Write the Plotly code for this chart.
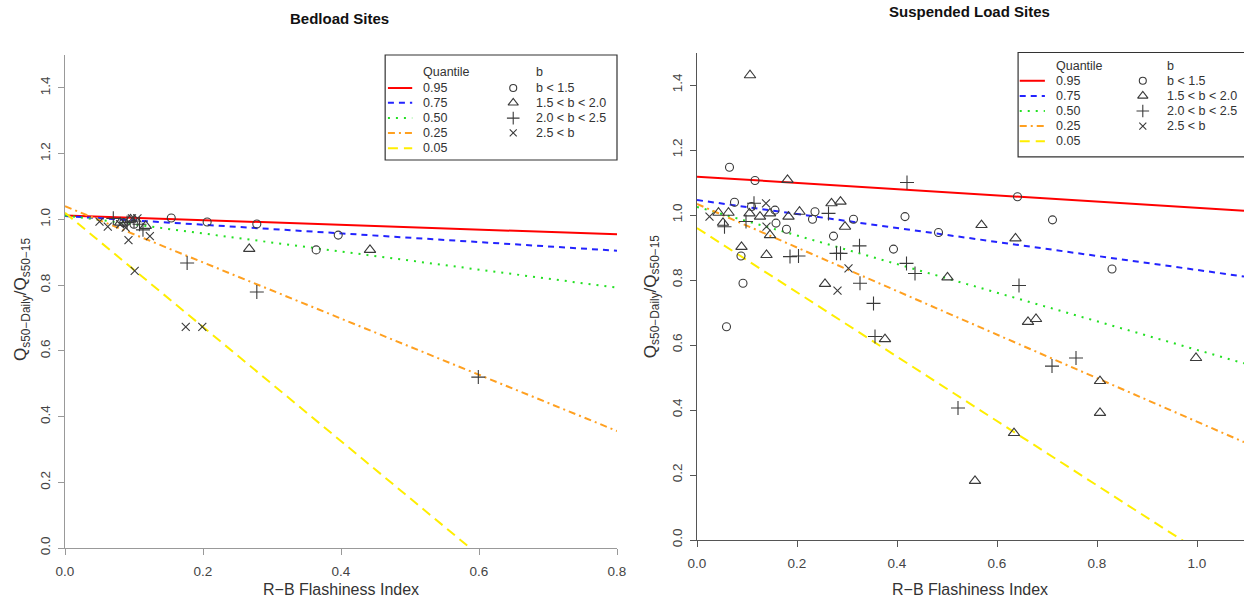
import plotly.graph_objects as go

# ---------------- data ----------------
QUANTILES = ["0.95", "0.75", "0.50", "0.25", "0.05"]
B_CLASSES = ["b < 1.5", "1.5 < b < 2.0", "2.0 < b < 2.5", "2.5 < b"]

# Bedload sites: quantile regression lines (intercept, slope)
bed_intercept = [1.012, 1.010, 1.012, 1.040, 1.020]
bed_slope = [-0.072, -0.132, -0.275, -0.855, -1.737]

# Bedload sites: points by b class
bed_circle_x = [0.154, 0.206, 0.278, 0.396, 0.364, 0.085, 0.100]
bed_circle_y = [1.004, 0.992, 0.986, 0.952, 0.907, 0.990, 0.985]
bed_tri_x = [0.267, 0.442, 0.117, 0.095, 0.080]
bed_tri_y = [0.910, 0.907, 0.980, 1.000, 0.990]
bed_plus_x = [0.070, 0.113, 0.177, 0.278, 0.599, 0.090, 0.100, 0.108]
bed_plus_y = [1.003, 0.968, 0.867, 0.779, 0.520, 0.990, 0.995, 0.985]
bed_x_x = [0.050, 0.062, 0.092, 0.097, 0.105, 0.123, 0.101, 0.175, 0.199, 0.080, 0.088]
bed_x_y = [0.993, 0.978, 0.937, 1.003, 1.003, 0.949, 0.843, 0.673, 0.673, 0.985, 0.975]

# Suspended load sites: quantile regression lines (intercept, slope)
sus_intercept = [1.118, 1.046, 1.025, 1.034, 0.960]
sus_slope = [-0.096, -0.215, -0.440, -0.670, -0.990]

# Suspended load sites: points by b class
sus_circle_x = [0.065, 0.116, 0.075, 0.109, 0.156, 0.158, 0.179, 0.236, 0.231, 0.313,
                0.273, 0.416, 0.483, 0.393, 0.641, 0.711, 0.830, 0.088, 0.092, 0.059]
sus_circle_y = [1.147, 1.106, 1.039, 1.026, 1.015, 0.975, 0.956, 1.010, 0.987, 0.987,
                0.935, 0.995, 0.946, 0.895, 1.056, 0.985, 0.834, 0.874, 0.790, 0.656]
sus_tri_x = [0.106, 0.181, 0.043, 0.063, 0.052, 0.105, 0.126, 0.146, 0.146, 0.183,
             0.205, 0.269, 0.287, 0.296, 0.089, 0.139, 0.256, 0.376, 0.569, 0.637,
             0.501, 0.662, 0.678, 0.998, 0.806, 0.806, 0.634, 0.556]
sus_tri_y = [1.430, 1.108, 1.007, 1.007, 0.976, 1.005, 0.995, 1.005, 0.938, 0.995,
             1.010, 1.036, 1.041, 0.964, 0.902, 0.877, 0.788, 0.618, 0.969, 0.928,
             0.808, 0.671, 0.680, 0.560, 0.489, 0.391, 0.329, 0.182]
sus_plus_x = [0.420, 0.055, 0.098, 0.114, 0.263, 0.325, 0.279, 0.287, 0.419, 0.436,
              0.186, 0.203, 0.326, 0.353, 0.356, 0.644, 0.758, 0.710, 0.522]
sus_plus_y = [1.100, 0.964, 0.980, 1.036, 1.005, 0.905, 0.882, 0.882, 0.851, 0.820,
              0.872, 0.874, 0.790, 0.728, 0.626, 0.783, 0.560, 0.535, 0.406]
sus_x_x = [0.025, 0.138, 0.139, 0.303, 0.281]
sus_x_y = [0.995, 1.036, 0.964, 0.836, 0.767]

X_TICKS_BED = [0.0, 0.2, 0.4, 0.6, 0.8]
X_TICKS_SUS = [0.0, 0.2, 0.4, 0.6, 0.8, 1.0]
Y_TICKS = [0.0, 0.2, 0.4, 0.6, 0.8, 1.0, 1.2, 1.4]

# ---------------- styles ----------------
LINE_COLORS = ["#ff0000", "#2323ff", "#22e022", "#ffa020", "#ffee00"]
LINE_DASHES = ["solid", "6px,5px", "2px,6px", "7px,4px,2px,4px", "10px,6px"]
SYMBOLS = ["circle-open", "triangle-up-open", "cross-thin-open", "x-thin-open"]
SYM_SIZES = [8, 10, 10, 8]
MARK_COLOR = "#3a3a3a"
FONT = "Liberation Sans, Arial, sans-serif"
TXT = "#333333"

BED_XR = [0, 0.8]
SUS_XR = [0, 1.094]
YR = [0, 1.5]

fig = go.Figure()


def add_panel(xa, ya, xr, intercepts, slopes, groups):
    # quantile regression lines across the full x range
    for i in range(len(QUANTILES)):
        xs = [xr[0], xr[1]]
        ys = [intercepts[i] + slopes[i] * v for v in xs]
        fig.add_trace(go.Scatter(
            x=xs, y=ys, mode="lines", xaxis=xa, yaxis=ya, showlegend=False,
            line=dict(color=LINE_COLORS[i], width=2, dash=LINE_DASHES[i]),
            hoverinfo="skip"))
    # site points by b class
    for k, (gx, gy) in enumerate(groups):
        fig.add_trace(go.Scatter(
            x=gx, y=gy, mode="markers", xaxis=xa, yaxis=ya, showlegend=False,
            marker=dict(symbol=SYMBOLS[k], size=SYM_SIZES[k], color=MARK_COLOR,
                        line=dict(width=1.1, color=MARK_COLOR))))


add_panel("x", "y", BED_XR, bed_intercept, bed_slope,
          [(bed_circle_x, bed_circle_y), (bed_tri_x, bed_tri_y),
           (bed_plus_x, bed_plus_y), (bed_x_x, bed_x_y)])
add_panel("x2", "y2", SUS_XR, sus_intercept, sus_slope,
          [(sus_circle_x, sus_circle_y), (sus_tri_x, sus_tri_y),
           (sus_plus_x, sus_plus_y), (sus_x_x, sus_x_y)])

shapes = []
annotations = []


def add_key(xa, ya, xr, box, line_x, label_x, sym_x, sym_label_x, head_y, rows_y):
    """Draw a two-column key (quantile lines / b classes) inside a panel."""
    xd = xa + " domain"
    yd = ya + " domain"
    shapes.append(dict(type="rect", xref=xd, yref=yd, x0=box[0], x1=box[1],
                       y0=box[2], y1=box[3], line=dict(color="#333", width=1.2),
                       fillcolor="white", layer="below"))
    tf = dict(family=FONT, size=12.5, color=TXT)
    annotations.append(dict(text="Quantile", xref=xd, yref=yd, x=label_x, y=head_y,
                            xanchor="left", yanchor="middle", showarrow=False, font=tf))
    annotations.append(dict(text="b", xref=xd, yref=yd, x=sym_label_x, y=head_y,
                            xanchor="left", yanchor="middle", showarrow=False, font=tf))
    for i, q in enumerate(QUANTILES):
        shapes.append(dict(type="line", xref=xd, yref=yd, x0=line_x[0], x1=line_x[1],
                           y0=rows_y[i], y1=rows_y[i], layer="above",
                           line=dict(color=LINE_COLORS[i], width=2, dash=LINE_DASHES[i])))
        annotations.append(dict(text=q, xref=xd, yref=yd, x=label_x, y=rows_y[i],
                                xanchor="left", yanchor="middle", showarrow=False, font=tf))
    for k, lab in enumerate(B_CLASSES):
        annotations.append(dict(text=lab, xref=xd, yref=yd, x=sym_label_x, y=rows_y[k],
                                xanchor="left", yanchor="middle", showarrow=False, font=tf))
    # key markers placed via the panel's own scales
    for k in range(len(B_CLASSES)):
        fig.add_trace(go.Scatter(
            x=[xr[0] + sym_x * (xr[1] - xr[0])], y=[YR[0] + rows_y[k] * (YR[1] - YR[0])],
            mode="markers", xaxis=xa, yaxis=ya, showlegend=False, hoverinfo="skip",
            marker=dict(symbol=SYMBOLS[k], size=SYM_SIZES[k] - 1, color=MARK_COLOR,
                        line=dict(width=1.1, color=MARK_COLOR))))


add_key("x", "y", BED_XR, box=[0.58, 1.0, 0.787, 1.0], line_x=[0.585, 0.629],
        label_x=0.645, sym_x=0.812, sym_label_x=0.85, head_y=0.966,
        rows_y=[0.933, 0.903, 0.872, 0.842, 0.811])
add_key("x2", "y2", SUS_XR, box=[0.587, 1.03, 0.786, 1.0], line_x=[0.59, 0.636],
        label_x=0.652, sym_x=0.815, sym_label_x=0.856, head_y=0.972,
        rows_y=[0.942, 0.911, 0.880, 0.849, 0.818])

# panel titles and axis titles
center = dict(xanchor="center", yanchor="middle", showarrow=False,
              xref="paper", yref="paper")
annotations += [
    dict(text="<b>Bedload Sites</b>", x=0.2733, y=0.970,
         font=dict(family=FONT, size=15, color="#111"), **center),
    dict(text="<b>Suspended Load Sites</b>", x=0.7797, y=0.9817,
         font=dict(family=FONT, size=15, color="#111"), **center),
    dict(text="R\u2212B Flashiness Index", x=0.2741, y=0.020,
         font=dict(family=FONT, size=16, color=TXT), **center),
    dict(text="R\u2212B Flashiness Index", x=0.7797, y=0.020,
         font=dict(family=FONT, size=16, color=TXT), **center),
    dict(text="Q<sub>s50\u2212Daily</sub>/Q<sub>s50\u221215</sub>",
         x=0.0177, y=0.5017, textangle=-90,
         font=dict(family=FONT, size=17, color=TXT), **center),
    dict(text="Q<sub>s50\u2212Daily</sub>/Q<sub>s50\u221215</sub>",
         x=0.5241, y=0.508, textangle=-90,
         font=dict(family=FONT, size=17, color=TXT), **center),
]

tick_font = dict(family=FONT, size=13.5, color="#444")


def xaxis(domain, rng, ticks, anchor, lc):
    return dict(domain=domain, range=rng, anchor=anchor, tickvals=ticks, automargin=False,
                ticktext=[f"{t:.1f}" for t in ticks], showgrid=False, zeroline=False,
                showline=True, linecolor=lc, linewidth=1.2, ticks="outside", ticklen=6,
                tickcolor=lc, tickfont=tick_font, ticklabelstandoff=5)


def yaxis(domain, anchor, lc):
    return dict(domain=domain, range=YR, anchor=anchor, tickvals=Y_TICKS, automargin=False,
                ticktext=[f"{t:.1f}" for t in Y_TICKS], tickangle=-90, showgrid=False,
                zeroline=False, showline=True, linecolor=lc, linewidth=1.2,
                ticks="outside", ticklen=6, tickcolor=lc, tickfont=tick_font,
                ticklabelstandoff=3)


fig.update_layout(
    width=1244, height=602, margin=dict(l=0, r=0, t=0, b=0, pad=0, autoexpand=False),
    paper_bgcolor="white", plot_bgcolor="white", showlegend=False,
    xaxis=xaxis([65 / 1244, 617 / 1244], BED_XR, X_TICKS_BED, "y", "#999"),
    yaxis=yaxis([(602 - 548) / 602, (602 - 55) / 602], "x", "#999"),
    xaxis2=xaxis([697 / 1244, 1.0], SUS_XR, X_TICKS_SUS, "y2", "#555"),
    yaxis2=yaxis([(602 - 540) / 602, (602 - 52.5) / 602], "x2", "#555"),
    shapes=shapes, annotations=annotations,
)

fig.write_html("out.html")
